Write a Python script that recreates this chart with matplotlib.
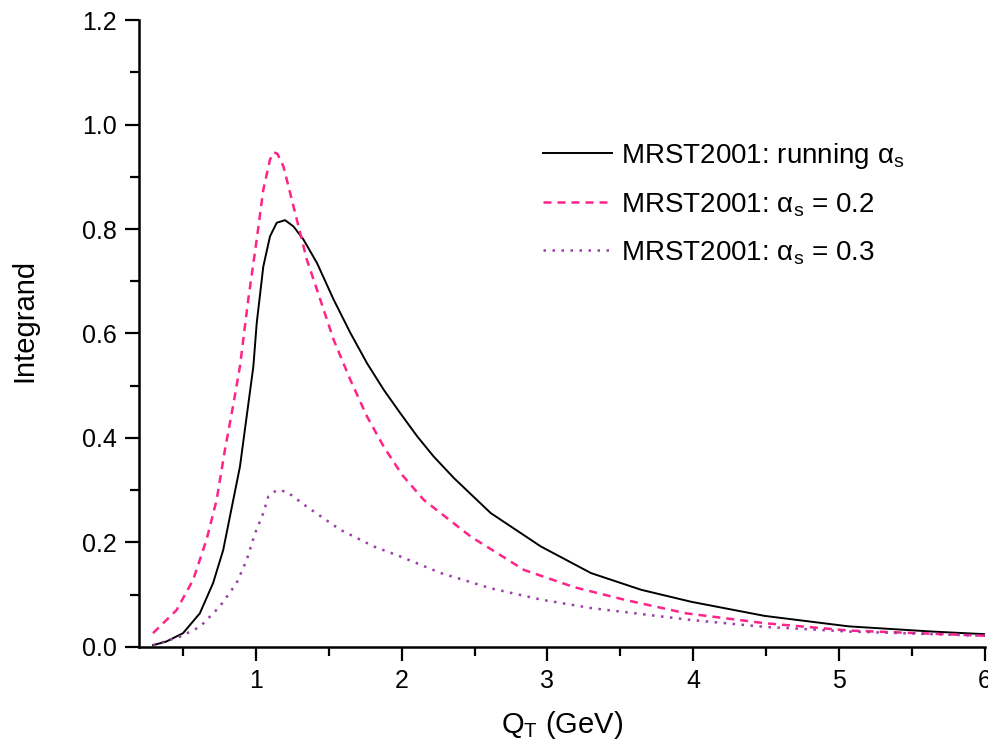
import matplotlib
matplotlib.use("Agg")
import matplotlib.pyplot as plt
from matplotlib.ticker import MultipleLocator, FormatStrFormatter

plt.rcParams['font.family'] = ['Liberation Sans', 'DejaVu Sans']

# MRST2001: running alpha_s (black solid)
x_run = [0.296, 0.388, 0.502, 0.617, 0.708, 0.777, 0.846, 0.892, 0.938, 0.984, 1.007,
         1.052, 1.098, 1.144, 1.201, 1.259, 1.327, 1.420, 1.534, 1.649, 1.763, 1.878,
         1.992, 2.107, 2.221, 2.359, 2.611, 2.955, 3.299, 3.643, 3.987, 4.49, 5.065,
         5.64, 6.0]
y_run = [0.003, 0.010, 0.026, 0.064, 0.122, 0.185, 0.281, 0.345, 0.441, 0.537, 0.620,
         0.728, 0.786, 0.812, 0.817, 0.805, 0.780, 0.735, 0.665, 0.601, 0.543, 0.492,
         0.447, 0.403, 0.364, 0.323, 0.256, 0.192, 0.141, 0.109, 0.086, 0.059, 0.039,
         0.029, 0.024]

# MRST2001: alpha_s = 0.2 (pink dashed)
x_02 = [0.296, 0.457, 0.571, 0.663, 0.732, 0.789, 0.846, 0.892, 0.949, 1.007, 1.052,
        1.098, 1.125, 1.149, 1.19, 1.236, 1.282, 1.351, 1.42, 1.534, 1.649, 1.763,
        1.878, 2.004, 2.153, 2.474, 2.84, 3.184, 3.528, 3.95, 4.49, 5.065, 6.0]
y_02 = [0.026, 0.070, 0.128, 0.205, 0.281, 0.377, 0.463, 0.537, 0.665, 0.780, 0.875,
        0.933, 0.947, 0.944, 0.920, 0.869, 0.818, 0.741, 0.684, 0.588, 0.511, 0.441,
        0.383, 0.329, 0.281, 0.211, 0.147, 0.114, 0.090, 0.064, 0.045, 0.031, 0.021]

# MRST2001: alpha_s = 0.3 (purple dotted)
x_03 = [0.296, 0.479, 0.617, 0.754, 0.869, 0.938, 0.995, 1.052, 1.087, 1.144, 1.213,
        1.351, 1.58, 1.81, 1.99, 2.27, 2.61, 2.96, 3.30, 3.99, 4.49, 5.07, 6.0]
y_03 = [0.003, 0.019, 0.038, 0.077, 0.122, 0.166, 0.217, 0.256, 0.288, 0.300, 0.297,
        0.268, 0.224, 0.192, 0.173, 0.141, 0.112, 0.090, 0.074, 0.051, 0.038, 0.029, 0.021]

labels = ['MRST2001: running α$_\\mathregular{s}$',
          'MRST2001: α$_\\mathregular{s}$ = 0.2',
          'MRST2001: α$_\\mathregular{s}$ = 0.3']

fig = plt.figure(figsize=(9.88, 7.48), dpi=100)
ax = fig.add_axes([0.1407, 0.1354, 0.8563, 0.8376])

ax.plot(x_run, y_run, color='black', lw=1.4, label=labels[0])
ax.plot(x_02, y_02, color='#ff2288', lw=1.8, ls=(0, (3.2, 2.4)), label=labels[1])
ax.plot(x_03, y_03, color='#9c3ca8', lw=1.8, ls=(0, (1, 2.6)), label=labels[2])

ax.set_xlim(0.2, 6.0)
ax.set_ylim(0, 1.2)
ax.xaxis.set_major_locator(MultipleLocator(1))
ax.xaxis.set_minor_locator(MultipleLocator(0.5))
ax.yaxis.set_major_locator(MultipleLocator(0.2))
ax.yaxis.set_minor_locator(MultipleLocator(0.1))
ax.yaxis.set_major_formatter(FormatStrFormatter('%.1f'))

for s in ['top', 'right']:
    ax.spines[s].set_visible(False)
for s in ['left', 'bottom']:
    ax.spines[s].set_linewidth(1.8)
ax.tick_params(which='major', direction='out', length=10, width=1.6, labelsize=18, pad=6)
ax.tick_params(which='minor', direction='out', length=6.5, width=1.6)

ax.set_xlabel('Q$_\\mathregular{T}$ (GeV)', fontsize=21)
ax.set_ylabel('Integrand', fontsize=21)
ax.xaxis.set_label_coords(0.5, -0.10)
ax.yaxis.set_label_coords(-0.119, 0.52)

ax.legend(loc='upper left', bbox_to_anchor=(0.5496, 0.8115), bbox_transform=fig.transFigure,
          frameon=False, fontsize=20, handlelength=2.5, handletextpad=0.3,
          borderpad=0, borderaxespad=0, labelspacing=0.72)

fig.savefig('out.png', dpi=100)
